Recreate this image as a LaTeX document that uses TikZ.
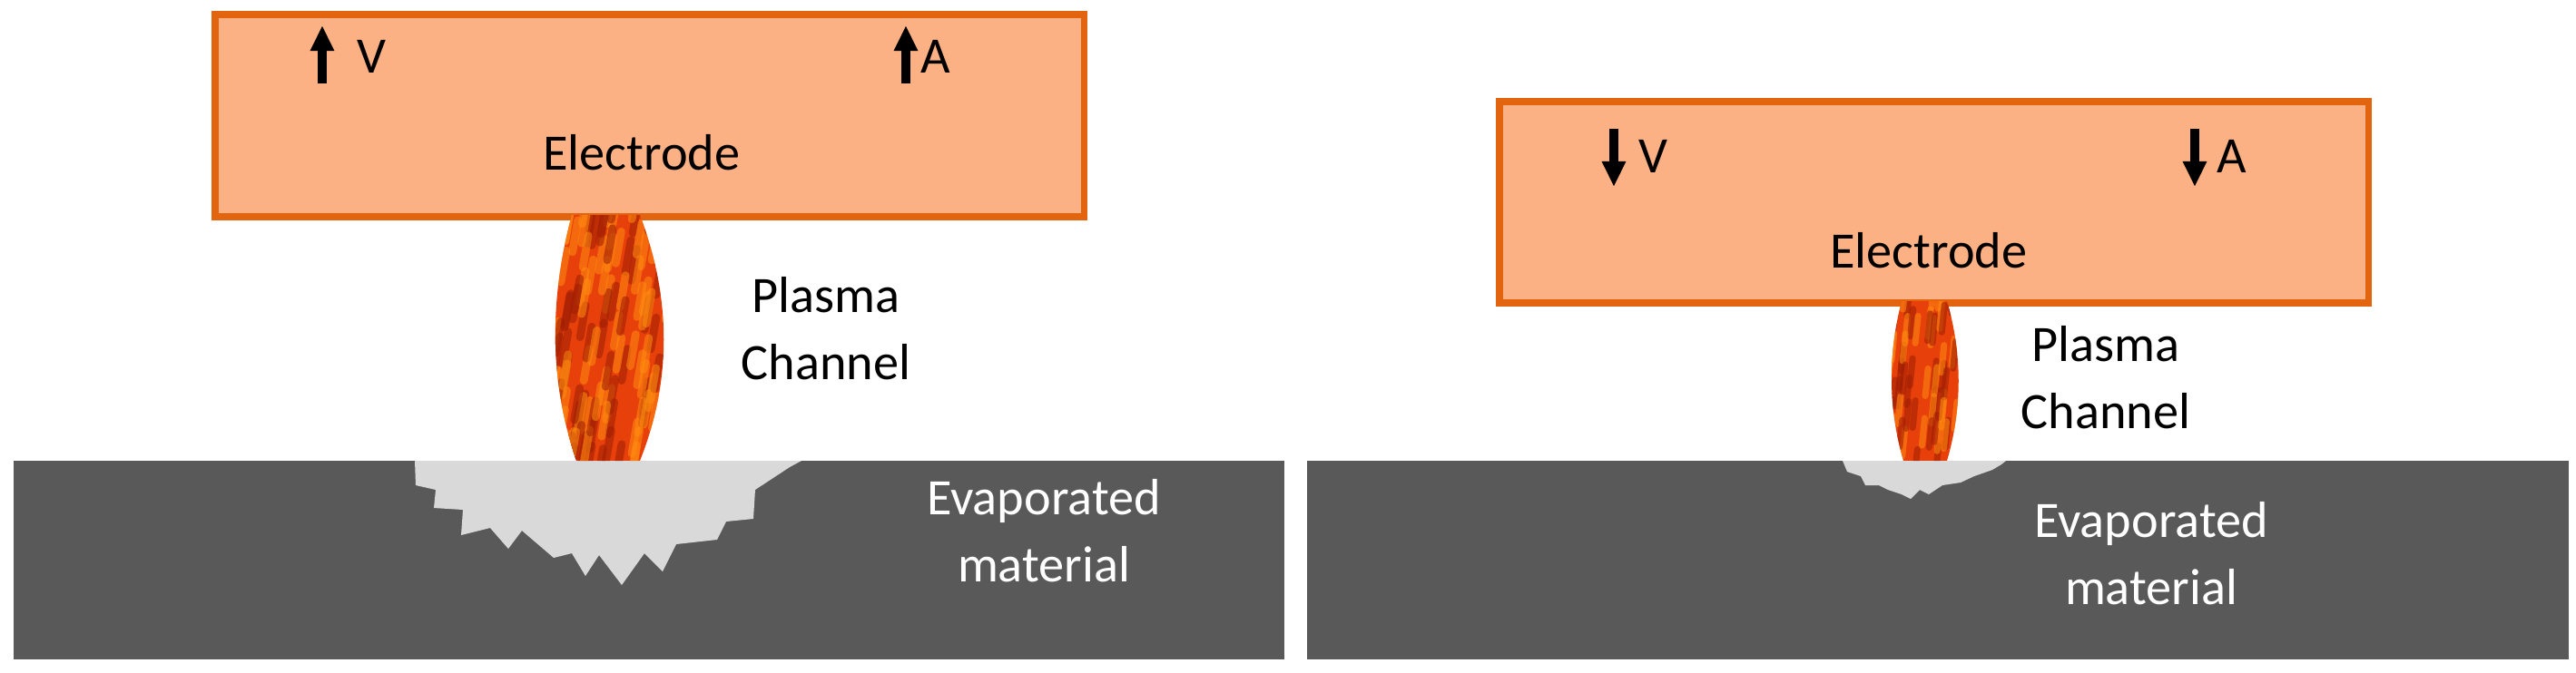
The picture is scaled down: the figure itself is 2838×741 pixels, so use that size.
\documentclass[tikz,border=0pt]{standalone}
\usepackage{fontspec}
\setmainfont{Carlito}
\usetikzlibrary{arrows.meta}
\definecolor{elfill}{HTML}{FBB183}
\definecolor{eldraw}{HTML}{E2640F}
\definecolor{ground}{HTML}{595959}
\definecolor{crater}{HTML}{D9D9D9}
\definecolor{fireA}{HTML}{E8400A}
\definecolor{fireB}{HTML}{9E1E04}
\definecolor{fireC}{HTML}{FF8C10}
\begin{document}
\begin{tikzpicture}[x=0.01cm,y=-0.01cm,
  electrode/.style={draw=eldraw,fill=elfill,line width=2.2pt},
  groundbox/.style={fill=ground},
  lbl/.style={font=\fontsize{16}{21}\selectfont,align=center,inner sep=0pt},
  wlbl/.style={lbl,text=white},
  varrow/.style={line width=3pt,-{Triangle[length=8pt,width=7pt]}}]
\useasboundingbox (0,0) rectangle (2838,741);
% ground
\fill[groundbox] (15,508) rectangle (1415,727);
\fill[groundbox] (1440,508) rectangle (2830,727);
% craters
\fill[crater] (457,508)--(458,535)--(480,540)--(478,560)--(510,562)--(508,590)--(540,582)--(560,605)--(575,585)--(610,615)--(630,610)--(645,635)--(660,612)--(685,645)--(710,610)--(730,630)--(745,600)--(790,595)--(800,575)--(830,572)--(832,540)--(870,515)--(883,508)--cycle;
\fill[crater] (2030,508)--(2035,520)--(2050,525)--(2055,535)--(2070,535)--(2080,540)--(2095,545)--(2105,550)--(2115,540)--(2125,545)--(2140,535)--(2160,532)--(2175,525)--(2195,518)--(2205,512)--(2210,508)--cycle;
% electrodes
\node[electrode,minimum width=9.57cm,minimum height=2.23cm,anchor=north west] (el1) at (233,12) {};
\node[electrode,minimum width=9.57cm,minimum height=2.22cm,anchor=north west] (el2) at (1648,108) {};
% plasma left
\begin{scope}
\clip (630,237) .. controls (605,330) and (605,420) .. (635,508) -- (705,508) .. controls (740,420) and (740,330) .. (705,237) -- cycle;
\fill[fireA] (600,237) rectangle (750,508);
\pgfmathsetseed{7}
\foreach \i in {1,...,140}{
  \pgfmathsetmacro{\xx}{600+rnd*150}\pgfmathsetmacro{\yy}{237+rnd*300}
  \pgfmathsetmacro{\cc}{rnd}
  \ifdim\cc pt<0.45pt \def\col{fireB}\else\def\col{fireC}\fi
  \draw[\col,line width=2.5pt,opacity=0.55,line cap=round] (\xx,\yy) -- ++(6,-35);}
\end{scope}
% plasma right
\begin{scope}
\clip (2095,332) .. controls (2080,390) and (2080,450) .. (2097,508) -- (2145,508) .. controls (2162,450) and (2162,390) .. (2145,332) -- cycle;
\fill[fireA] (2080,332) rectangle (2160,508);
\pgfmathsetseed{11}
\foreach \i in {1,...,60}{
  \pgfmathsetmacro{\xx}{2080+rnd*80}\pgfmathsetmacro{\yy}{332+rnd*200}
  \pgfmathsetmacro{\cc}{rnd}
  \ifdim\cc pt<0.45pt \def\col{fireB}\else\def\col{fireC}\fi
  \draw[\col,line width=2pt,opacity=0.55,line cap=round] (\xx,\yy) -- ++(3,-30);}
\end{scope}
% left labels
\coordinate (v1a) at (355,92); \coordinate (v1b) at (355,28);
\draw[varrow] (v1a) -- (v1b);
\node[lbl,anchor=west] (v1) at (393,62) {V};
\coordinate (a1a) at (998,92); \coordinate (a1b) at (998,28);
\draw[varrow] (a1a) -- (a1b);
\node[lbl,anchor=west] (a1) at (1014,62) {A};
\node[lbl] (t1) at (707,168) {Electrode};
\node[lbl] (p1) at (910,362) {Plasma\\Channel};
\node[wlbl] (e1) at (1150,585) {Evaporated\\material};
% right labels
\coordinate (v2a) at (1778,142); \coordinate (v2b) at (1778,206);
\draw[varrow] (v2a) -- (v2b);
\node[lbl,anchor=west] (v2) at (1805,172) {V};
\coordinate (a2a) at (2418,142); \coordinate (a2b) at (2418,206);
\draw[varrow] (a2a) -- (a2b);
\node[lbl,anchor=west] (a2) at (2442,172) {A};
\node[lbl] (t2) at (2125,276) {Electrode};
\node[lbl] (p2) at (2320,416) {Plasma\\Channel};
\node[wlbl] (e2) at (2370,610) {Evaporated\\material};
\end{tikzpicture}
\end{document}
